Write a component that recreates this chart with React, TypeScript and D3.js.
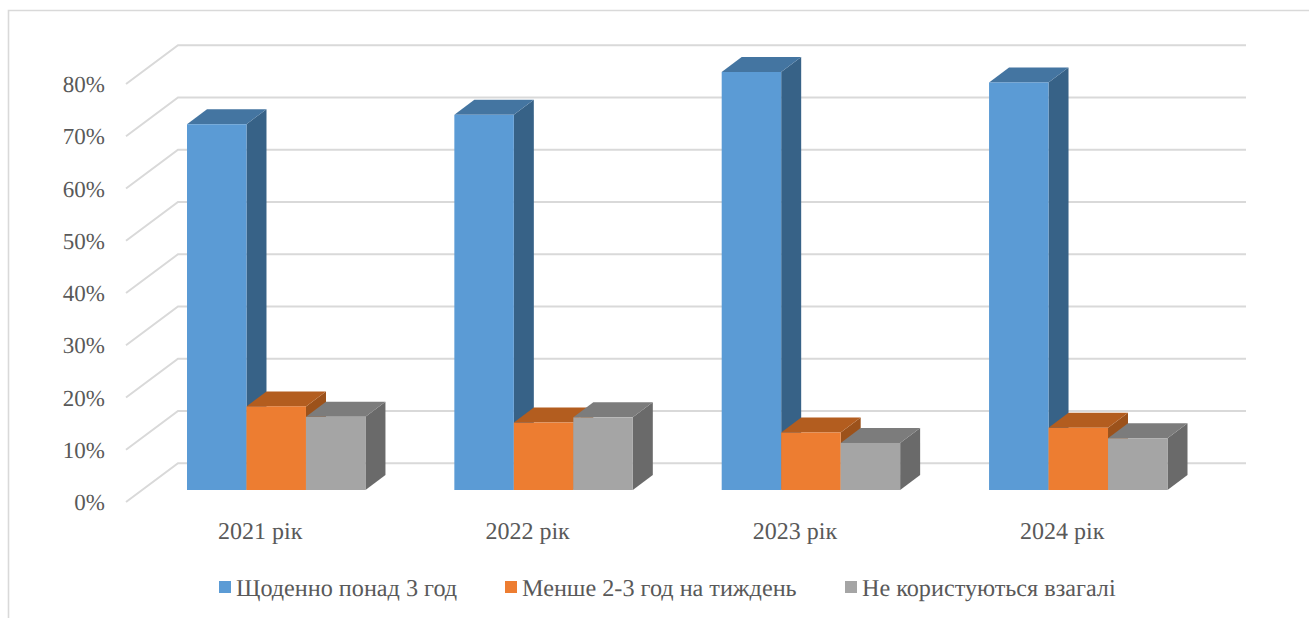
import { useEffect, useRef } from "react"
import * as d3 from "d3"

const years = ["2021 рік", "2022 рік", "2023 рік", "2024 рік"]
const seriesNames = ["Щоденно понад 3 год", "Менше 2-3 год на тиждень", "Не користуються взагалі"]
const daily = [70, 71.8, 80, 78]
const less = [16, 12.9, 11, 11.9]
const never = [14, 13.9, 9, 9.9]
const ticks = [0, 10, 20, 30, 40, 50, 60, 70, 80]

const front = ["#5b9bd5", "#ed7d31", "#a5a5a5"]
const top = ["#4475a1", "#b35d1f", "#7c7c7c"]
const side = ["#376287", "#9c521b", "#6a6a6a"]
const GRID = "#d9d9d9"
const TEXT = "#595959"
const FONT = "'Liberation Serif', serif"

export default function App() {
  const ref = useRef<SVGSVGElement>(null)
  useEffect(() => {
    if (!ref.current) return
    const svg = d3.select(ref.current)
    svg.selectAll("*").remove()
    const values = [daily, less, never]

    const y = d3.scaleLinear().domain([0, 80]).range([490, 72])
    const x0 = d3.scaleBand().domain(years).range([187, 1167.5]).paddingInner(0.3325)
    const x1 = d3.scaleBand().domain(seriesNames).range([0, x0.bandwidth()])
    const depth = { x: 20, y: -15 }

    // chart frame, open on the right and bottom
    svg.append("path").attr("d", "M8.5,618V10.5H1309").attr("fill", "none").attr("stroke", GRID).attr("stroke-width", 1.6)

    // wall gridlines
    const grid = svg.append("g").attr("fill", "none").attr("stroke", GRID).attr("stroke-width", 2)
    ticks.forEach(t => {
      const p = d3.path()
      p.moveTo(126, y(t) + 12)
      p.lineTo(178, y(t) - 26.7)
      p.lineTo(1246, y(t) - 26.7)
      grid.append("path").attr("d", p.toString())
    })

    svg.append("g").selectAll("text").data(ticks).join("text")
      .attr("x", 105).attr("y", d => y(d) + 12.7)
      .attr("text-anchor", "end").attr("dominant-baseline", "central")
      .style("fill", TEXT).style("font-family", FONT).style("font-size", "23px")
      .style("text-rendering", "geometricPrecision")
      .text(d => `${d}%`)

    // bars, left to right so each one covers the side of the previous
    years.forEach((yr, i) => {
      const g = svg.append("g")
      seriesNames.forEach((s, k) => {
        const l = x0(yr)! + x1(s)!
        const r = l + x1.bandwidth()
        const t = y(values[k][i])
        const b = y(0)
        g.append("polygon").attr("fill", side[k])
          .attr("points", `${r},${t} ${r + depth.x},${t + depth.y} ${r + depth.x},${b + depth.y} ${r},${b}`)
        g.append("polygon").attr("fill", top[k])
          .attr("points", `${l},${t} ${l + depth.x},${t + depth.y} ${r + depth.x},${t + depth.y} ${r},${t}`)
        g.append("rect").attr("x", l).attr("y", t).attr("width", x1.bandwidth()).attr("height", b - t).attr("fill", front[k])
      })
    })

    svg.append("g").selectAll("text").data(years).join("text")
      .attr("x", d => x0(d)! + x0.bandwidth() / 2 - 16).attr("y", 539)
      .attr("text-anchor", "middle")
      .style("fill", TEXT).style("font-family", FONT).style("font-size", "24px")
      .style("text-rendering", "geometricPrecision")
      .text(d => d)

    // legend
    const legendX = d3.scaleOrdinal<string, number>().domain(seriesNames).range([219, 505, 845])
    const leg = svg.append("g").selectAll("g").data(seriesNames).join("g")
      .attr("transform", d => `translate(${legendX(d)},581)`)
    leg.append("rect").attr("width", 12).attr("height", 12).attr("fill", (_, i) => front[i])
    leg.append("text").attr("x", 17).attr("y", 15)
      .style("fill", TEXT).style("font-family", FONT).style("font-size", "24.2px")
      .style("text-rendering", "geometricPrecision")
      .text(d => d)
  }, [])
  return (
    <svg
      ref={ref}
      width={1309}
      height={618}
      style={{ position: "absolute", left: 0, top: 0, display: "block", background: "#fff" }}
    />
  )
}
